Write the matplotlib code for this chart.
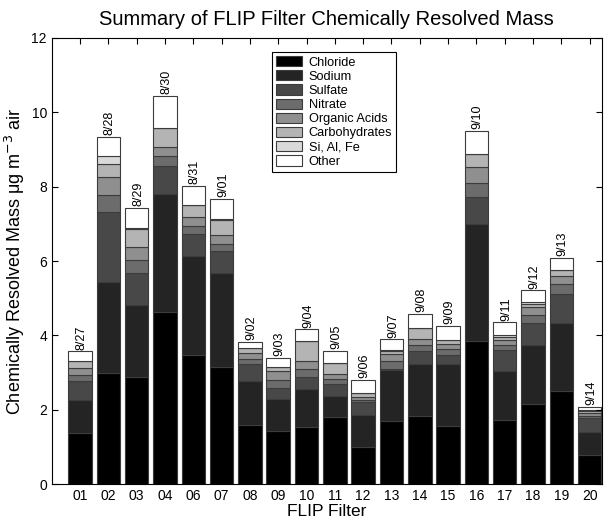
import matplotlib
matplotlib.use("Agg")
import matplotlib.pyplot as plt
import numpy as np

plt.rcParams['font.family'] = ['Liberation Sans', 'DejaVu Sans']

# filter ids and sample dates
filters = ['01', '02', '03', '04', '06', '07', '08', '09', '10', '11',
           '12', '13', '14', '15', '16', '17', '18', '19', '20']
dates = ['8/27', '8/28', '8/29', '8/30', '8/31', '9/01', '9/02', '9/03', '9/04', '9/05',
         '9/06', '9/07', '9/08', '9/09', '9/10', '9/11', '9/12', '9/13', '9/14']

# mass of each component (ug m-3)
chloride = [1.37, 2.98, 2.88, 4.62, 3.47, 3.16, 1.58, 1.44, 1.53, 1.80,
            1.01, 1.69, 1.84, 1.55, 3.85, 1.73, 2.15, 2.51, 0.79]
sodium = [0.90, 2.45, 1.94, 3.17, 2.66, 2.53, 1.20, 0.86, 1.03, 0.58,
          0.86, 1.38, 1.39, 1.68, 3.14, 1.30, 1.59, 1.82, 0.60]
sulfate = [0.51, 1.89, 0.85, 0.77, 0.59, 0.57, 0.45, 0.28, 0.32, 0.31,
           0.33, 0.03, 0.34, 0.25, 0.72, 0.58, 0.59, 0.78, 0.39]
nitrate = [0.16, 0.46, 0.36, 0.27, 0.23, 0.21, 0.14, 0.23, 0.21, 0.14,
           0.07, 0.21, 0.16, 0.15, 0.40, 0.13, 0.22, 0.26, 0.06]
organic = [0.17, 0.47, 0.35, 0.24, 0.24, 0.23, 0.15, 0.22, 0.21, 0.14,
           0.06, 0.18, 0.18, 0.13, 0.41, 0.14, 0.22, 0.23, 0.07]
carbs = [0.21, 0.35, 0.48, 0.52, 0.33, 0.40, 0.14, 0.12, 0.55, 0.28,
         0.13, 0.10, 0.30, 0.12, 0.36, 0.07, 0.08, 0.16, 0.06]
si_al_fe = [0.00, 0.22, 0.02, 0.00, 0.00, 0.03, 0.00, 0.00, 0.00, 0.00,
            0.00, 0.03, 0.00, 0.00, 0.00, 0.06, 0.04, 0.00, 0.02]
other = [0.25, 0.52, 0.55, 0.86, 0.51, 0.54, 0.16, 0.25, 0.31, 0.34,
         0.35, 0.27, 0.37, 0.38, 0.63, 0.34, 0.32, 0.33, 0.09]

names = ['Chloride', 'Sodium', 'Sulfate', 'Nitrate', 'Organic Acids',
         'Carbohydrates', 'Si, Al, Fe', 'Other']
series = [chloride, sodium, sulfate, nitrate, organic, carbs, si_al_fe, other]
colors = ['#000000', '#242424', '#484848', '#6c6c6c', '#8f8f8f',
          '#b4b4b4', '#d9d9d9', '#ffffff']

fig = plt.figure(figsize=(6.16, 5.2), dpi=100)
ax = fig.add_axes([0.084, 0.069, 0.893, 0.858])

x = np.arange(1, len(filters) + 1)
bottom = np.zeros(len(filters))
for name, vals, col in zip(names, series, colors):
    vals = np.array(vals)
    ax.bar(x, vals, width=0.83, bottom=bottom, color=col, edgecolor='#3c3c3c',
           linewidth=0.8, label=name)
    bottom += vals

# date label on top of each bar
for xi, top, d in zip(x, bottom, dates):
    ax.text(xi + 0.05, top + 0.05, d, rotation=90, ha='center', va='bottom', fontsize=9)

ax.set_xlim(0, 19.43)
ax.set_ylim(0, 12)
ax.set_xticks(x)
ax.set_xticklabels(filters)
ax.set_yticks(np.arange(0, 13, 2))
ax.tick_params(direction='in', top=True, right=True, length=4, labelsize=10)
for s in ax.spines.values():
    s.set_linewidth(0.8)

ax.set_title('Summary of FLIP Filter Chemically Resolved Mass', fontsize=14.5, pad=9)
ax.set_xlabel('FLIP Filter', fontsize=12.5, labelpad=1)
ax.set_ylabel(r'Chemically Resolved Mass μg m$^{-3}$ air', fontsize=13, labelpad=3)

leg = ax.legend(loc='upper left', bbox_to_anchor=(0.40, 0.968), fontsize=9.2,
                frameon=True, fancybox=False, edgecolor='black', framealpha=1,
                handlelength=2.1, handleheight=0.85, labelspacing=0.13,
                borderpad=0.3, handletextpad=0.5, borderaxespad=0)
leg.get_frame().set_linewidth(0.8)

fig.savefig('out.png', dpi=100)
